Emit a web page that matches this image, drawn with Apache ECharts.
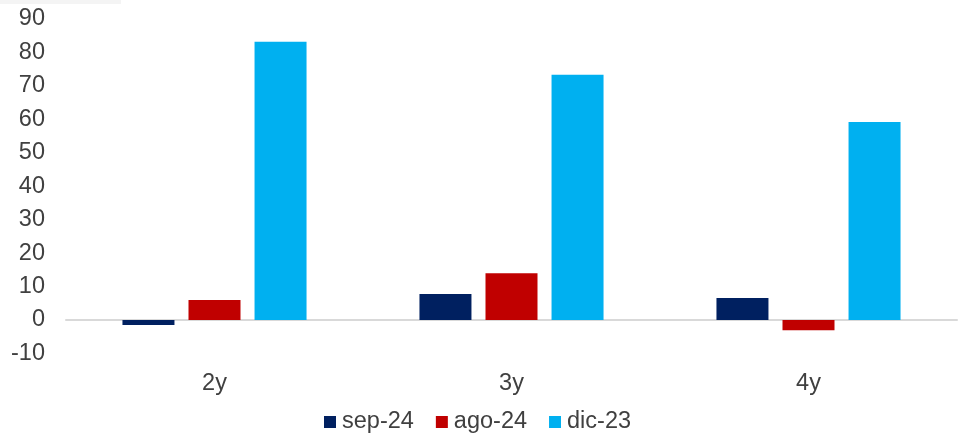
<!DOCTYPE html>
<html>
<head>
<meta charset="utf-8">
<script src="https://cdn.jsdelivr.net/npm/echarts@6/dist/echarts.min.js"></script>
<style>html,body{margin:0;padding:0;background:#fff;}#c{width:962px;height:434px;}</style>
</head>
<body>
<div id="c"></div>
<script>
const categories = ['2y', '3y', '4y'];
const seriesNames = ['sep-24', 'ago-24', 'dic-23'];
const sep24 = [-1.5, 7.8, 6.6];
const ago24 = [6.0, 14.0, -3.1];
const dic23 = [83.2, 73.3, 59.2];
const colors = ['#002060', '#C00000', '#00B0F0'];

const chart = echarts.init(document.getElementById('c'), null, {renderer: 'canvas'});
const font = 'Liberation Sans, Arial, sans-serif';
const fs = 23.5;
chart.setOption({
  animation: false,
  backgroundColor: '#ffffff',
  color: colors,
  graphic: [{type: 'rect', left: 0, top: 0, shape: {width: 121, height: 4}, style: {fill: '#f4f4f4'}, silent: true}],
  grid: {left: 66, right: 5, top: 19, bottom: 80.6, containLabel: false},
  legend: {
    data: seriesNames, top: 405, left: 319, icon: 'rect',
    itemWidth: 12, itemHeight: 12, itemGap: 22,
    textStyle: {fontFamily: font, fontSize: fs, color: '#404040', padding: [0, 0, 0, 1]}
  },
  xAxis: [
    {type: 'category', data: categories, position: 'bottom',
     axisLine: {onZero: true, lineStyle: {color: '#d9d9d9', width: 2}},
     axisTick: {show: false}, axisLabel: {show: false}},
    {type: 'category', data: categories, position: 'bottom', offset: 0,
     axisLine: {show: false}, axisTick: {show: false},
     axisLabel: {fontFamily: font, fontSize: fs, color: '#404040', margin: 18}}
  ],
  yAxis: {
    type: 'value', min: -10, max: 90, interval: 10,
    axisLine: {show: false}, axisTick: {show: false}, splitLine: {show: false},
    axisLabel: {fontFamily: font, fontSize: fs, color: '#404040', margin: 21}
  },
  series: [
    {name: seriesNames[0], type: 'bar', data: sep24, barWidth: 52, barGap: '27%', barCategoryGap: '38%', xAxisIndex: 0},
    {name: seriesNames[1], type: 'bar', data: ago24, barWidth: 52, barGap: '27%', barCategoryGap: '38%', xAxisIndex: 0},
    {name: seriesNames[2], type: 'bar', data: dic23, barWidth: 52, barGap: '27%', barCategoryGap: '38%', xAxisIndex: 0}
  ]
});
</script>
</body>
</html>
